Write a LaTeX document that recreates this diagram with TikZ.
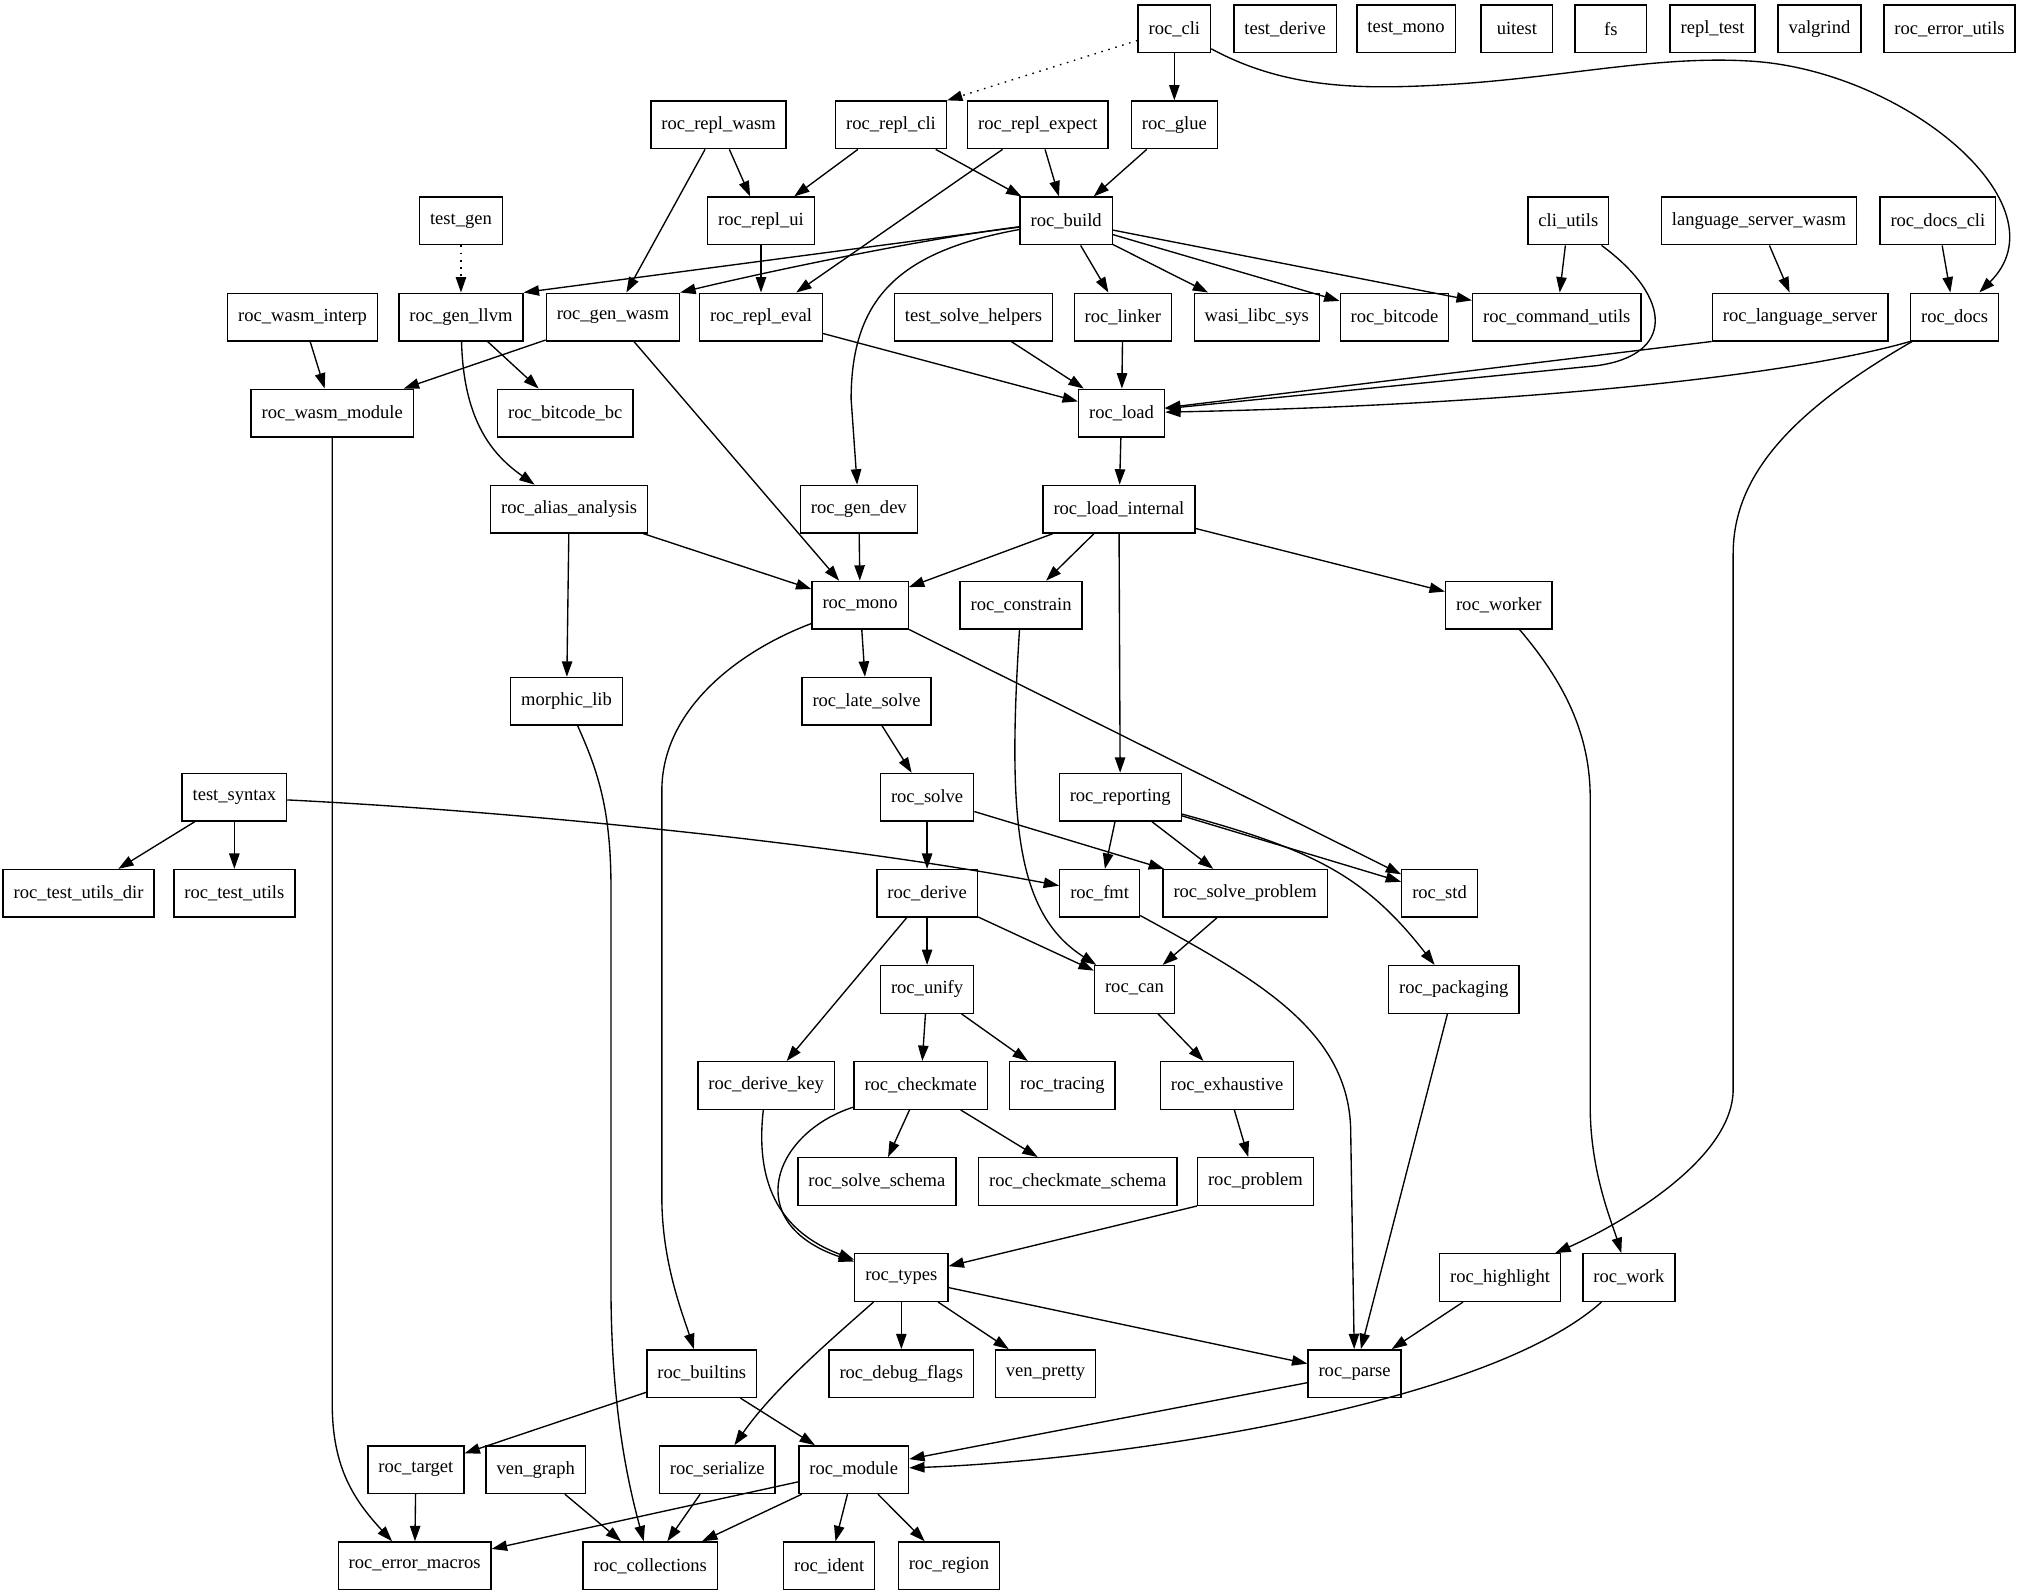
\documentclass[tikz,border=0pt]{standalone}
\usepackage{fontspec}
\setmainfont{Liberation Serif}
\usepackage{tikz}
\usetikzlibrary{arrows.meta}

\begin{document}
\begin{tikzpicture}[x=0.02cm,y=0.02cm]
\tikzstyle{every node}+=[inner ysep=0pt]
\tikzstyle{crate}=[draw=black, line width=0.6pt, rectangle, minimum width=1.11cm, minimum height=0.74cm, inner xsep=0.163cm, font=\fontsize{8.2}{9}\selectfont]
\tikzstyle{dep}=[black, line width=0.6pt, -{Triangle[length=6.8pt,width=4.6pt]}]
\tikzstyle{devdep}=[dep, dash pattern=on 0.7pt off 2.5pt]
\useasboundingbox (0,0) rectangle (1568,-1238.7);
\draw (912,-22.4) node [crate] (cli) {roc\_cli};
\draw (998,-22.4) node [crate] (testderive) {test\_derive};
\draw (1092,-22.4) node [crate] (testmono) {test\_mono};
\draw (1178,-22.4) node [crate] (uitest) {uitest};
\draw (1251,-22.4) node [crate] (fs) {fs};
\draw (1330,-22.4) node [crate] (repltest) {repl\_test};
\draw (1413,-22.4) node [crate] (valgrind) {valgrind};
\draw (1514,-22.4) node [crate] (errorutils) {roc\_error\_utils};
\draw (558,-97) node [crate] (replwasm) {roc\_repl\_wasm};
\draw (692,-97) node [crate] (replcli) {roc\_repl\_cli};
\draw (806,-97) node [crate] (replexpect) {roc\_repl\_expect};
\draw (912,-97) node [crate] (glue) {roc\_glue};
\draw (358,-171.6) node [crate] (testgen) {test\_gen};
\draw (591,-171.6) node [crate] (replui) {roc\_repl\_ui};
\draw (828,-171.6) node [crate] (build) {roc\_build};
\draw (1218,-171.6) node [crate] (cliutils) {cli\_utils};
\draw (1366,-171.6) node [crate] (lsw) {language\_server\_wasm};
\draw (1505,-171.6) node [crate] (docscli) {roc\_docs\_cli};
\draw (235,-246.2) node [crate] (wasminterp) {roc\_wasm\_interp};
\draw (358,-246.2) node [crate] (genllvm) {roc\_gen\_llvm};
\draw (476,-246.2) node [crate] (genwasm) {roc\_gen\_wasm};
\draw (591,-246.2) node [crate] (repleval) {roc\_repl\_eval};
\draw (756,-246.2) node [crate] (solvehelpers) {test\_solve\_helpers};
\draw (872,-246.2) node [crate] (linker) {roc\_linker};
\draw (976,-246.2) node [crate] (wasi) {wasi\_libc\_sys};
\draw (1083,-246.2) node [crate] (bitcode) {roc\_bitcode};
\draw (1209,-246.2) node [crate] (cmdutils) {roc\_command\_utils};
\draw (1398,-246.2) node [crate] (langserver) {roc\_language\_server};
\draw (1518,-246.2) node [crate] (docs) {roc\_docs};
\draw (258,-320.8) node [crate] (wasmmodule) {roc\_wasm\_module};
\draw (439,-320.8) node [crate] (bitcodebc) {roc\_bitcode\_bc};
\draw (871,-320.8) node [crate] (load) {roc\_load};
\draw (442,-395.4) node [crate] (alias) {roc\_alias\_analysis};
\draw (667,-395.4) node [crate] (gendev) {roc\_gen\_dev};
\draw (869,-395.4) node [crate] (loadinternal) {roc\_load\_internal};
\draw (668,-470) node [crate] (mono) {roc\_mono};
\draw (793,-470) node [crate] (constrain) {roc\_constrain};
\draw (1164,-470) node [crate] (worker) {roc\_worker};
\draw (440,-544.6) node [crate] (morphic) {morphic\_lib};
\draw (673,-544.6) node [crate] (latesolve) {roc\_late\_solve};
\draw (182,-619.2) node [crate] (testsyntax) {test\_syntax};
\draw (720,-619.2) node [crate] (solve) {roc\_solve};
\draw (870,-619.2) node [crate] (reporting) {roc\_reporting};
\draw (61,-693.8) node [crate] (testutilsdir) {roc\_test\_utils\_dir};
\draw (182,-693.8) node [crate] (testutils) {roc\_test\_utils};
\draw (720,-693.8) node [crate] (derive) {roc\_derive};
\draw (854,-693.8) node [crate] (fmt) {roc\_fmt};
\draw (967,-693.8) node [crate] (solveproblem) {roc\_solve\_problem};
\draw (1118,-693.8) node [crate] (std) {roc\_std};
\draw (720,-768.4) node [crate] (unify) {roc\_unify};
\draw (881,-768.4) node [crate] (can) {roc\_can};
\draw (1129,-768.4) node [crate] (packaging) {roc\_packaging};
\draw (595,-843) node [crate] (derivekey) {roc\_derive\_key};
\draw (715,-843) node [crate] (checkmate) {roc\_checkmate};
\draw (825,-843) node [crate] (tracing) {roc\_tracing};
\draw (953,-843) node [crate] (exhaustive) {roc\_exhaustive};
\draw (681,-917.6) node [crate] (solveschema) {roc\_solve\_schema};
\draw (837,-917.6) node [crate] (checkmateschema) {roc\_checkmate\_schema};
\draw (975,-917.6) node [crate] (problem) {roc\_problem};
\draw (700,-992.2) node [crate] (types) {roc\_types};
\draw (1165,-992.2) node [crate] (highlight) {roc\_highlight};
\draw (1265,-992.2) node [crate] (work) {roc\_work};
\draw (545,-1066.8) node [crate] (builtins) {roc\_builtins};
\draw (700,-1066.8) node [crate] (debugflags) {roc\_debug\_flags};
\draw (812,-1066.8) node [crate] (venpretty) {ven\_pretty};
\draw (1052,-1066.8) node [crate] (parse) {roc\_parse};
\draw (323,-1141.4) node [crate] (target) {roc\_target};
\draw (416,-1141.4) node [crate] (vengraph) {ven\_graph};
\draw (557,-1141.4) node [crate] (serialize) {roc\_serialize};
\draw (663,-1141.4) node [crate] (module) {roc\_module};
\draw (322,-1216) node [crate] (errmacros) {roc\_error\_macros};
\draw (505,-1216) node [crate] (collections) {roc\_collections};
\draw (644,-1216) node [crate] (ident) {roc\_ident};
\draw (737,-1216) node [crate] (region) {roc\_region};
\draw [devdep] (cli) -- (replcli.north east);
\draw [dep] (cli) -- (glue);
\draw [dep] (cli) .. controls (1000,-70) and (1060,-70) .. (1135,-65) .. controls (1220,-59) and (1290,-43) .. (1360,-47.5) .. controls (1480,-55) and (1605,-160) .. (docs);
\draw [dep] (replwasm) -- (replui);
\draw [dep] (replwasm) -- (genwasm);
\draw [dep] (replcli) -- (replui);
\draw [dep] (replcli) -- (build);
\draw [dep] (replexpect) -- (build);
\draw [dep] (replexpect) -- (repleval);
\draw [dep] (glue) -- (build);
\draw [devdep] (testgen) -- (genllvm);
\draw [dep] (replui) -- (repleval);
\draw [dep] (build) -- (genllvm.north east);
\draw [dep] (build) .. controls (720,-185) and (600,-210) .. (genwasm.north east);
\draw [dep] (build) .. controls (700,-195) and (661,-230) .. (661,-310) -- (gendev);
\draw [dep] (build) -- (linker);
\draw [dep] (build) -- (wasi);
\draw [dep] (build) -- (bitcode);
\draw [dep] (build) -- (cmdutils);
\draw [dep] (cliutils) -- (cmdutils);
\draw [dep] (cliutils) .. controls (1300,-232) and (1300,-276) .. (1240,-284) -- (load);
\draw [dep] (lsw) -- (langserver);
\draw [dep] (docscli) -- (docs);
\draw [dep] (wasminterp) -- (wasmmodule);
\draw [dep] (genllvm) -- (bitcodebc);
\draw [dep] (genllvm) .. controls (360,-330) and (385,-355) .. (alias);
\draw [dep] (genwasm) -- (wasmmodule);
\draw [dep] (genwasm) -- (mono);
\draw [dep] (repleval) -- (load);
\draw [dep] (solvehelpers) -- (load);
\draw [dep] (linker) -- (load);
\draw [dep] (langserver.south west) -- (load);
\draw [dep] (docs.south west) .. controls (1380,-295) and (1150,-315) .. (load);
\draw [dep] (docs) .. controls (1390,-320) and (1346,-370) .. (1346,-430) -- (1346,-846) .. controls (1346,-900) and (1260,-950) .. (highlight);
\draw [dep] (wasmmodule) -- (258,-1090) .. controls (258,-1140) and (275,-1165) .. (errmacros);
\draw [dep] (load) -- (loadinternal);
\draw [dep] (alias) -- (mono);
\draw [dep] (alias) -- (morphic);
\draw [dep] (gendev) -- (mono);
\draw [dep] (loadinternal) -- (mono);
\draw [dep] (loadinternal) -- (constrain);
\draw [dep] (loadinternal) -- (reporting);
\draw [dep] (loadinternal) -- (worker);
\draw [dep] (mono) -- (latesolve);
\draw [dep] (mono) -- (std);
\draw [dep] (mono) .. controls (575,-505) and (514,-550) .. (514,-614) -- (514,-930) .. controls (514,-980) and (530,-1020) .. (builtins);
\draw [dep] (constrain) .. controls (782,-640) and (790,-710) .. (can);
\draw [dep] (worker) .. controls (1215,-530) and (1235,-570) .. (1235,-620) -- (1235,-860) .. controls (1235,-910) and (1252,-950) .. (work);
\draw [dep] (morphic) .. controls (465,-600) and (474.5,-630) .. (474.5,-690) -- (474.5,-1000) .. controls (474.5,-1100) and (490,-1160) .. (collections);
\draw [dep] (latesolve) -- (solve);
\draw [dep] (testsyntax) -- (testutilsdir);
\draw [dep] (testsyntax) -- (testutils);
\draw [dep] (testsyntax) .. controls (400,-630) and (650,-655) .. (fmt);
\draw [dep] (solve) -- (derive);
\draw [dep] (solve) -- (solveproblem);
\draw [dep] (reporting) -- (fmt);
\draw [dep] (reporting) -- (solveproblem);
\draw [dep] (reporting) -- (std);
\draw [dep] (reporting) .. controls (1020,-660) and (1060,-680) .. (packaging);
\draw [dep] (derive) -- (unify);
\draw [dep] (derive) -- (can);
\draw [dep] (derive) -- (derivekey);
\draw [dep] (fmt) .. controls (975,-760) and (1049,-800) .. (1049,-880) -- (parse);
\draw [dep] (solveproblem) -- (can);
\draw [dep] (unify) -- (checkmate);
\draw [dep] (unify) -- (tracing);
\draw [dep] (can) -- (exhaustive);
\draw [dep] (packaging) -- (parse);
\draw [dep] (derivekey) .. controls (585,-930) and (615,-960) .. (types);
\draw [dep] (checkmate) -- (solveschema);
\draw [dep] (checkmate) -- (checkmateschema);
\draw [dep] (checkmate) .. controls (600,-880) and (575,-950) .. (types);
\draw [dep] (exhaustive) -- (problem);
\draw [dep] (problem.south west) -- (types);
\draw [dep] (types) -- (debugflags);
\draw [dep] (types) -- (venpretty);
\draw [dep] (types) -- (parse);
\draw [dep] (types) .. controls (640,-1045) and (600,-1080) .. (serialize);
\draw [dep] (highlight) -- (parse);
\draw [dep] (work) .. controls (1150,-1095) and (850,-1135) .. (module);
\draw [dep] (builtins) -- (target);
\draw [dep] (builtins) -- (module);
\draw [dep] (parse) -- (module);
\draw [dep] (target) -- (errmacros);
\draw [dep] (vengraph) -- (collections);
\draw [dep] (serialize) -- (collections);
\draw [dep] (module) -- (errmacros);
\draw [dep] (module) -- (collections);
\draw [dep] (module) -- (ident);
\draw [dep] (module) -- (region);
\end{tikzpicture}
\end{document}
